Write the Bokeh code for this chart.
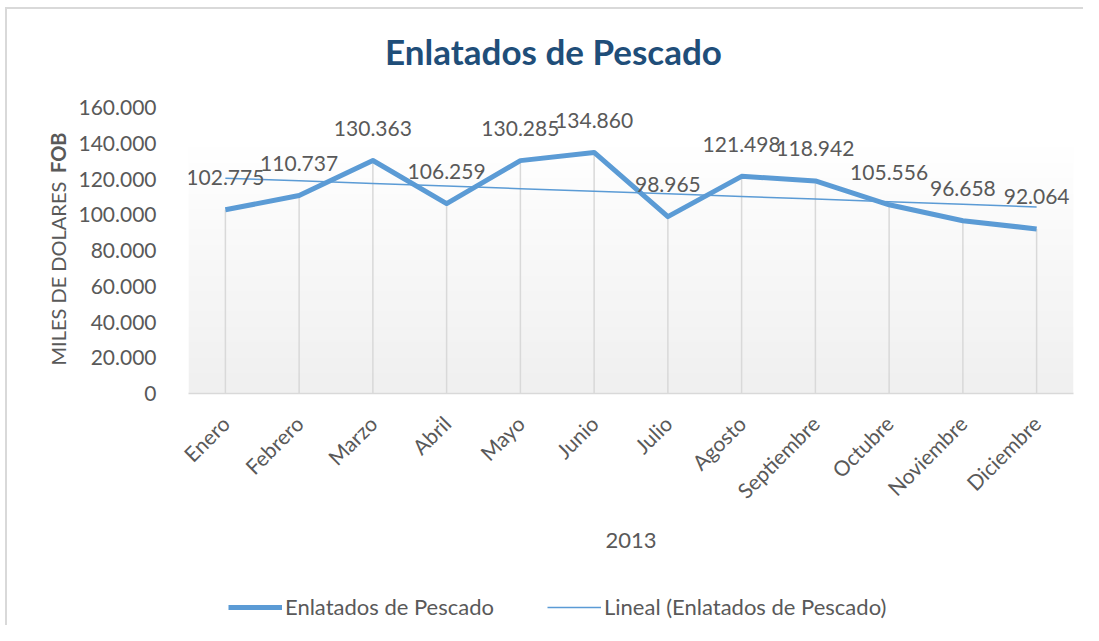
import numpy as np
from bokeh.plotting import figure
from bokeh.layouts import column
from bokeh.models import (Range1d, FixedTicker, Label, Legend, LegendItem)
from bokeh.core.properties import value
from bokeh.embed import file_html
from bokeh.resources import INLINE

# ---- data ----
months = ["Enero", "Febrero", "Marzo", "Abril", "Mayo", "Junio", "Julio",
          "Agosto", "Septiembre", "Octubre", "Noviembre", "Diciembre"]
values = [102775, 110737, 130363, 106259, 130285, 134860, 98965,
          121498, 118942, 105556, 96658, 92064]
y_ticks = [0, 20000, 40000, 60000, 80000, 100000, 120000, 140000, 160000]
y_tick_labels = ["0", "20.000", "40.000", "60.000", "80.000", "100.000",
                 "120.000", "140.000", "160.000"]
series_name = "Enlatados de Pescado"
trend_name = "Lineal (Enlatados de Pescado)"
title_text = "Enlatados de Pescado"
x_title = "2013"
y_title_main = "MILES DE DOLARES"
y_title_bold = "FOB"

# ---- styling ----
FONT = "Lato"
TXT = "#595959"
BLUE = "#5B9BD5"
GRID = "#D9D9D9"

W = 1083
H1, H2 = 585, 40
FL, FR, FT, FB = 188, 1073, 107, 393   # frame edges in figure px
YMAX = 160000

xs = list(range(len(months)))
p = figure(width=W, height=H1, output_backend="svg", toolbar_location=None,
           x_range=Range1d(-0.5, len(months) - 0.5), y_range=Range1d(0, YMAX),
           min_border_left=FL, min_border_right=W - FR,
           min_border_top=FT, min_border_bottom=H1 - FB)
p.outline_line_color = None
p.background_fill_color = "white"
p.border_fill_color = None
p.xgrid.grid_line_color = None
p.ygrid.grid_line_color = None

def dy(py):  # figure px -> data y
    return (FB - py) / (FB - FT) * YMAX

# plot-area gradient (decoration)
N = 64
img = np.zeros((N, 1), dtype=np.uint32)
v = img.view(dtype=np.uint8).reshape((N, 1, 4))
shade = np.linspace(0xF0, 0xFF, N).astype(np.uint8)
v[:, 0, 0] = shade
v[:, 0, 1] = shade
v[:, 0, 2] = shade
v[:, 0, 3] = 255
p.image_rgba(image=[img], x=-0.5, y=0, dw=len(months), dh=dy(143), level="image")

# drop lines
p.segment(x0=xs, y0=[0] * len(xs), x1=xs, y1=values, line_color=GRID, line_width=1.5)

# series + trend
r1 = p.line(xs, values, line_color=BLUE, line_width=5, line_join="round")
coef = np.polyfit(xs, values, 1)
trend = np.polyval(coef, xs)
r2 = p.line(xs, trend, line_color=BLUE, line_width=1.5)

# data labels
lbls = [f"{v_:,}".replace(",", ".") for v_ in values]
p.text(x=xs, y=values, text=lbls, text_align="center", text_baseline="middle",
       y_offset=-32, text_font=value(FONT), text_font_size="21px", text_color=TXT)

# axes
p.xaxis.ticker = FixedTicker(ticks=xs)
p.xaxis.major_label_overrides = {i: m for i, m in enumerate(months)}
p.xaxis.major_label_orientation = np.pi / 4
p.xaxis.major_label_text_font = FONT
p.xaxis.major_label_text_font_size = "21px"
p.xaxis.major_label_text_color = TXT
p.xaxis.major_label_standoff = 20
p.xaxis.major_tick_line_color = None
p.xaxis.minor_tick_line_color = None
p.xaxis.axis_line_color = GRID
p.xaxis.axis_line_width = 1.5
p.xaxis.axis_label = x_title
p.xaxis.axis_label_text_font = FONT
p.xaxis.axis_label_text_font_size = "22px"
p.xaxis.axis_label_text_font_style = "normal"
p.xaxis.axis_label_text_color = TXT
p.xaxis.axis_label_standoff = 18

p.yaxis.ticker = FixedTicker(ticks=y_ticks)
p.yaxis.major_label_overrides = {t: l for t, l in zip(y_ticks, y_tick_labels)}
p.yaxis.major_label_text_font = FONT
p.yaxis.major_label_text_font_size = "21px"
p.yaxis.major_label_text_color = TXT
p.yaxis.major_label_standoff = 26
p.yaxis.major_tick_line_color = None
p.yaxis.minor_tick_line_color = None
p.yaxis.axis_line_color = None

# y axis title (mixed weight), in left panel
p.add_layout(Label(x=57, y=365, x_units="canvas", y_units="canvas",
                   text=y_title_main, angle=np.pi / 2,
                   text_align="left", text_baseline="middle", text_font=FONT,
                   text_font_size="20px", text_color=TXT), "left")
p.add_layout(Label(x=57, y=132, x_units="canvas", y_units="canvas",
                   text=y_title_bold, angle=np.pi / 2,
                   text_align="right", text_baseline="middle", text_font=FONT,
                   text_font_size="20px", text_font_style="bold", text_color=TXT), "left")

# chart title, in above panel
p.add_layout(Label(x=553, y=50, x_units="canvas", y_units="canvas",
                   text=title_text, text_align="center",
                   text_baseline="middle", text_font=FONT, text_font_size="35px",
                   text_font_style="bold", text_color="#1F4E79"), "above")

# legend strip: same series drawn off-range, so only the legend shows
q = figure(width=W, height=H2, output_backend="svg", toolbar_location=None,
           x_range=Range1d(-0.5, len(months) - 0.5), y_range=Range1d(0, 1),
           x_axis_location=None, y_axis_location=None, min_border=0)
q.outline_line_color = None
q.background_fill_color = None
q.border_fill_color = None
q.xgrid.grid_line_color = None
q.ygrid.grid_line_color = None
l1 = q.line(xs, values, line_color=BLUE, line_width=5)
l2 = q.line(xs, trend, line_color=BLUE, line_width=1.5)
legend = Legend(items=[LegendItem(label=series_name, renderers=[l1]),
                       LegendItem(label=trend_name, renderers=[l2])],
                orientation="horizontal", location=(40, 5),
                label_text_font=FONT, label_text_font_size="22px",
                label_text_color=TXT, glyph_width=54, glyph_height=20,
                label_standoff=3, spacing=53, padding=0, margin=0,
                border_line_color=None, background_fill_alpha=0)
q.add_layout(legend, "center")

frame_css = ("linear-gradient(#D9D9D9, #D9D9D9) 5px 7px / 2px 100% no-repeat, "
             "linear-gradient(#D9D9D9, #D9D9D9) 5px 7px / 100% 2px no-repeat, white")
layout = column(p, q, spacing=0, styles={"background": frame_css})
open("out.html", "w").write(file_html(layout, INLINE))
